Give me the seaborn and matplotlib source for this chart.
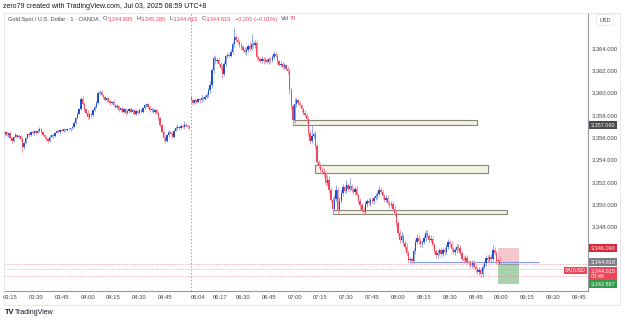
import numpy as np
import pandas as pd
import matplotlib
matplotlib.use("Agg")
import matplotlib.pyplot as plt
from matplotlib.patches import Rectangle
import seaborn as sns

# ---- 1-minute XAUUSD candles read off the snapshot ----
# first session 03:12 - 04:59, open of the very first bar, then closes
asia_open = 3356.30
asia_close = [
    3356.45, 3356.20, 3356.35, 3355.90, 3355.70, 3356.05, 3356.20, 3356.00, 3356.15, 3355.85,
    3355.10, 3355.45, 3355.90, 3356.30, 3356.20, 3356.50, 3356.35, 3356.55, 3356.40, 3356.60,
    3356.75, 3356.45, 3356.20, 3356.05, 3355.80, 3355.70, 3356.05, 3356.20, 3356.10, 3356.40,
    3356.55, 3356.45, 3356.65, 3356.60, 3356.70, 3356.65, 3356.75, 3356.70, 3356.80, 3356.95,
    3357.30, 3357.70, 3358.10, 3358.50, 3359.40, 3359.00, 3358.50, 3358.20, 3357.80, 3358.10,
    3357.95, 3358.40, 3358.70, 3359.10, 3359.95, 3360.05, 3359.80, 3359.60, 3359.35, 3359.50,
    3359.25, 3359.05, 3359.20, 3358.90, 3358.70, 3358.80, 3358.45, 3358.60, 3358.30, 3358.50,
    3358.15, 3358.35, 3358.55, 3358.25, 3358.40, 3358.10, 3358.35, 3358.20, 3358.45, 3358.30,
    3358.60, 3358.85, 3358.95, 3358.70, 3358.40, 3358.55, 3358.30, 3358.45, 3358.20, 3357.70,
    3357.10, 3356.50, 3355.90, 3355.70, 3356.20, 3356.50, 3356.30, 3356.05, 3356.60, 3356.85,
    3356.95, 3356.80, 3357.00, 3356.90, 3357.10, 3357.05, 3356.95, 3356.85]
# wick lengths beyond the body, in cents
asia_wick_up = [
    10, 15, 5, 20, 10, 10, 15, 5, 10, 5,
    20, 10, 15, 10, 20, 10, 15, 5, 10, 10,
    20, 10, 15, 5, 10, 10, 15, 5, 10, 10,
    15, 10, 5, 10, 15, 5, 10, 10, 5, 10,
    15, 10, 20, 15, 20, 30, 15, 10, 20, 10,
    15, 10, 20, 15, 10, 20, 15, 10, 20, 10,
    15, 10, 5, 20, 10, 15, 10, 5, 15, 10,
    10, 20, 5, 15, 10, 10, 20, 10, 15, 5,
    10, 15, 15, 10, 20, 5, 15, 10, 10, 15,
    10, 5, 15, 20, 10, 15, 10, 20, 10, 15,
    20, 10, 15, 10, 35, 20, 10, 15]
asia_wick_dn = [
    15, 10, 20, 10, 20, 10, 5, 15, 10, 20,
    40, 15, 10, 5, 15, 10, 5, 15, 10, 5,
    10, 15, 10, 20, 15, 20, 10, 5, 15, 10,
    5, 10, 15, 5, 10, 10, 5, 15, 10, 5,
    10, 15, 10, 5, 10, 15, 20, 10, 15, 20,
    10, 15, 5, 10, 10, 15, 10, 20, 10, 15,
    10, 20, 10, 15, 10, 5, 20, 10, 15, 10,
    20, 10, 15, 5, 20, 10, 15, 10, 5, 15,
    10, 5, 10, 20, 10, 15, 10, 20, 10, 15,
    20, 15, 20, 20, 10, 15, 10, 15, 10, 5,
    10, 15, 10, 5, 15, 10, 20, 10]

# second session 06:00 - 08:59
day_open = 3359.60
day_close = [
    3359.30, 3359.10, 3359.35, 3359.20, 3359.40, 3359.30, 3359.55, 3359.45, 3359.60, 3359.75,
    3360.20, 3360.70, 3362.00, 3363.10, 3362.85, 3362.95, 3362.60, 3362.20, 3361.65, 3362.60,
    3363.25, 3363.40, 3363.30, 3363.65, 3364.40, 3365.00, 3364.70, 3364.55, 3364.30, 3364.10,
    3363.80, 3363.60, 3363.85, 3364.20, 3363.95, 3364.40, 3364.25, 3364.45, 3363.20, 3363.00,
    3362.85, 3363.05, 3362.80, 3362.95, 3362.75, 3363.00, 3362.90, 3363.20, 3363.45, 3363.30,
    3362.80, 3362.50, 3362.60, 3362.30, 3362.45, 3362.15, 3361.90, 3360.20, 3358.80, 3357.50,
    3359.00, 3359.30, 3359.05, 3358.85, 3358.50, 3358.20, 3358.00, 3357.60, 3356.40, 3355.70,
    3356.10, 3356.30, 3355.20, 3353.80, 3353.40, 3353.10, 3352.90, 3352.70, 3351.90, 3352.20,
    3351.30, 3350.40, 3349.60, 3350.50, 3351.30, 3349.50, 3350.30, 3351.00, 3351.50, 3351.20,
    3351.70, 3351.40, 3351.60, 3351.30, 3351.10, 3351.35, 3350.80, 3350.30, 3349.90, 3349.50,
    3349.30, 3350.00, 3350.30, 3350.10, 3350.40, 3350.25, 3350.55, 3350.70, 3350.90, 3351.30,
    3351.10, 3350.70, 3350.40, 3350.55, 3350.10, 3349.90, 3350.05, 3349.60, 3349.20, 3348.30,
    3347.40, 3346.80, 3347.10, 3346.50, 3346.20, 3345.60, 3345.00, 3345.10, 3344.90, 3345.80,
    3346.60, 3347.00, 3346.70, 3346.40, 3346.60, 3346.95, 3347.40, 3347.15, 3346.80, 3346.90,
    3346.30, 3345.80, 3345.40, 3345.60, 3345.85, 3345.55, 3345.90, 3345.70, 3346.20, 3346.60,
    3346.40, 3346.00, 3345.70, 3345.85, 3346.20, 3346.05, 3345.60, 3345.10, 3344.95, 3345.20,
    3344.80, 3344.70, 3344.50, 3344.75, 3344.40, 3344.20, 3343.90, 3344.10, 3343.70, 3344.40,
    3344.70, 3345.20, 3345.00, 3345.30, 3345.10, 3345.90, 3345.60, 3344.90, 3344.895, 3344.615]
day_wick_up = [
    20, 10, 15, 10, 15, 10, 20, 10, 15, 20,
    20, 30, 25, 20, 30, 15, 20, 15, 25, 20,
    15, 20, 15, 25, 20, 90, 20, 25, 15, 20,
    15, 25, 20, 15, 30, 90, 20, 30, 25, 20,
    15, 20, 15, 20, 15, 20, 15, 20, 25, 15,
    20, 15, 20, 15, 20, 15, 20, 30, 25, 20,
    50, 20, 15, 20, 15, 20, 25, 20, 30, 25,
    100, 20, 30, 25, 20, 25, 20, 30, 25, 40,
    30, 25, 20, 30, 40, 25, 30, 25, 30, 20,
    50, 20, 70, 25, 20, 30, 25, 20, 25, 20,
    20, 25, 20, 25, 20, 25, 20, 30, 25, 30,
    20, 25, 20, 30, 25, 20, 25, 20, 30, 25,
    30, 25, 40, 20, 25, 30, 25, 20, 20, 30,
    25, 30, 20, 25, 20, 25, 30, 25, 20, 30,
    25, 20, 20, 25, 20, 25, 20, 25, 20, 25,
    20, 25, 20, 30, 25, 20, 25, 20, 25, 20,
    25, 20, 25, 20, 25, 20, 20, 25, 20, 25,
    20, 25, 20, 20, 25, 40, 25, 20, 25, 49]
day_wick_dn = [
    15, 20, 10, 15, 10, 20, 15, 10, 15, 10,
    15, 20, 25, 20, 30, 20, 25, 20, 30, 20,
    20, 15, 20, 15, 20, 30, 20, 15, 20, 25,
    20, 15, 20, 25, 20, 15, 20, 25, 30, 20,
    20, 15, 20, 15, 20, 15, 20, 15, 20, 15,
    20, 15, 20, 15, 20, 15, 25, 30, 40, 40,
    20, 25, 20, 15, 20, 25, 20, 30, 25, 30,
    25, 20, 30, 25, 20, 25, 20, 30, 25, 20,
    30, 25, 50, 20, 25, 30, 25, 20, 25, 20,
    20, 25, 20, 25, 20, 25, 20, 25, 30, 25,
    30, 20, 25, 20, 25, 20, 25, 20, 25, 20,
    20, 25, 20, 25, 20, 25, 20, 25, 30, 25,
    30, 25, 20, 25, 30, 25, 30, 25, 25, 20,
    25, 20, 25, 20, 25, 20, 25, 20, 25, 20,
    20, 25, 20, 25, 20, 25, 20, 25, 20, 25,
    20, 25, 20, 25, 20, 25, 20, 25, 20, 25,
    20, 25, 20, 25, 20, 25, 20, 25, 20, 25,
    20, 25, 20, 20, 25, 20, 20, 25, 20, 0]

time_labels = ["03:15", "03:30", "03:45", "04:00", "04:15", "04:30", "04:45",
               "06:04", "06:17", "06:30", "06:45", "07:00", "07:15", "07:30",
               "07:45", "08:00", "08:15", "08:30", "08:45", "09:00", "09:15",
               "09:30", "09:45"]
price_ticks = [3348, 3350, 3352, 3354, 3356, 3358, 3360, 3362, 3364]

# drawn supply/demand boxes
zone_start = ["06:59", "07:12", "07:22"]
zone_end = ["08:46", "08:52", "09:03"]
zone_low = [3357.09, 3352.76, 3349.08]
zone_high = [3357.55, 3353.53, 3349.47]

# short position tool and horizontal ray
pos_start, pos_end = "08:58", "09:10"
entry, stop, target = 3344.615, 3346.090, 3342.867
ray_start, ray_end, ray_price = "08:07", "09:22", 3344.818
last_price = 3344.615
dash_lines = [3344.21, 3343.58]

# header legend of the last bar
legend_ohlc = [("O", "3,344.895"), ("H", "3,345.385"), ("L", "3,344.615"), ("C", "3,344.615")]
legend_change = "\u22120.200 (\u22120.01%)"
legend_vol = "70"

assert len(asia_close) == len(asia_wick_up) == len(asia_wick_dn) == 108
assert len(day_close) == len(day_wick_up) == len(day_wick_dn) == 180


def bar_of(t):
    h, m = map(int, t.split(":"))
    mins = h * 60 + m
    if mins < 6 * 60:
        return mins - (3 * 60 + 12)
    return len(asia_close) + mins - 6 * 60


def session_frame(first_open, closes, up, dn, start):
    opens = [first_open] + closes[:-1]
    df = pd.DataFrame({"open": opens, "close": closes})
    top = df[["open", "close"]].max(axis=1)
    bot = df[["open", "close"]].min(axis=1)
    df["high"] = top + np.array(up) / 100.0
    df["low"] = bot - np.array(dn) / 100.0
    df["bar"] = np.arange(start, start + len(df))
    return df


df = pd.concat([session_frame(asia_open, asia_close, asia_wick_up, asia_wick_dn, 0),
                session_frame(day_open, day_close, day_wick_up, day_wick_dn, len(asia_close))],
               ignore_index=True)
df["up"] = df["close"] >= df["open"]

UP, DN = "#1f4fd6", "#f0465f"
UP_W, DN_W = "#7f9ae8", "#f48a9c"
TXT = "#434651"

sns.set_theme(style="white")
plt.rcParams["font.family"] = ["Liberation Sans", "DejaVu Sans"]

W, H = 625, 322
fig = plt.figure(figsize=(W / 100, H / 100), dpi=100)
L, R, T, B = 4, 588, 13, 291
ax = fig.add_axes([L / W, 1 - B / H, (R - L) / W, (B - T) / H])

# x mapping: 1 bar = 1.724 px, first bar at px 5
ppb = 1.724
ax.set_xlim((L - 5) / ppb, (R - 5) / ppb)
ax.set_ylim(3342.21, 3367.14)

# zones
for s, e, lo, hi in zip(zone_start, zone_end, zone_low, zone_high):
    ax.add_patch(Rectangle((bar_of(s), lo), bar_of(e) - bar_of(s), hi - lo,
                           facecolor="#f4f2e3", edgecolor="#85857a", lw=0.8, zorder=1))

# position tool
x0, x1 = bar_of(pos_start), bar_of(pos_end)
ax.add_patch(Rectangle((x0, entry), x1 - x0, stop - entry, facecolor="#f6c6cc", edgecolor="none", zorder=1))
ax.add_patch(Rectangle((x0, target), x1 - x0, entry - target, facecolor="#a9d3ad", edgecolor="none", zorder=1))
ax.hlines(entry, x0, x1, color="#9a9a9a", lw=0.8, zorder=2)

# horizontal lines
ax.axhline(last_price, color="#f28b9a", ls=(0, (2, 2)), lw=0.5, zorder=1)
ax.axhline(dash_lines[0], color="#8fa8f0", ls=(0, (1, 1.5)), lw=0.5, zorder=1)
ax.axhline(dash_lines[1], color="#f28b9a", ls=(0, (2, 2)), lw=0.5, zorder=1)
ax.hlines(ray_price, bar_of(ray_start), bar_of(ray_end), color="#7a9cf0", lw=0.8, zorder=2)

# session break
ax.axvline(len(asia_close) - 0.4, color="#8aa4e8", ls=(0, (1.5, 2)), lw=0.7, zorder=1)

# candles
wick_cols = np.where(df["up"], UP_W, DN_W)
body_cols = np.where(df["up"], UP, DN)
ax.vlines(df["bar"], df["low"], df["high"], colors=wick_cols, lw=0.6, zorder=3)
ax.bar(df["bar"], (df["close"] - df["open"]).abs().clip(lower=0.07),
       bottom=df[["open", "close"]].min(axis=1), width=0.78, color=body_cols, lw=0, zorder=4)

# axes styling
for sp in ["top", "left"]:
    ax.spines[sp].set_visible(False)
for sp in ["right", "bottom"]:
    ax.spines[sp].set_color("#9598a1")
    ax.spines[sp].set_linewidth(0.8)
ax.yaxis.tick_right()
ax.set_yticks(price_ticks)
ax.set_yticklabels([f"{v:,.3f}" for v in price_ticks])
ax.set_xticks([bar_of(t) for t in time_labels])
ax.set_xticklabels(time_labels)
ax.tick_params(axis="both", length=0, labelsize=4.2, labelcolor=TXT)
ax.tick_params(axis="y", pad=3)
ax.tick_params(axis="x", pad=3)
ax.grid(False)

# price-axis labels
ytr = ax.get_yaxis_transform()
def axis_label(price, text, color, dy=0, va="center"):
    ax.annotate(text, xy=(1, price), xycoords=ytr, xytext=(2.5, dy), textcoords="offset pixels",
                ha="left", va=va, fontsize=4.0, color="white", annotation_clip=False,
                bbox=dict(boxstyle="square,pad=0.3", fc=color, ec="none"))

axis_label(zone_low[0], f"{zone_low[0]:,.3f}", "#4a4a4a")
axis_label(stop, f"{stop:,.3f}", "#d9283a")
axis_label(ray_price, f"{ray_price:,.3f}", "#7b7e87")
axis_label(last_price, f"{last_price:,.3f}\n00:46", "#f0455a", dy=-4, va="top")
axis_label(target, f"{target:,.3f}", "#2f9a4a")
ax.annotate("XAUUSD", xy=(1, last_price), xycoords=ytr, xytext=(-2, -4), textcoords="offset pixels",
            ha="right", va="top", fontsize=3.6, color="white", annotation_clip=False,
            bbox=dict(boxstyle="square,pad=0.25", fc="#f0455a", ec="none"))

# header / footer text
fig.text(3 / W, 1 - 6 / H, "zero79 created with TradingView.com, Jul 03, 2025 08:59 UTC+8",
         fontsize=5.0, color="#131722", va="center")

renderer = fig.canvas.get_renderer()
def put(xp, s, c, gap):
    t = fig.text(xp / W, 1 - 19 / H, s, fontsize=4.1, color=c, va="center")
    return t.get_window_extent(renderer).x1 + gap

xp = put(8, "Gold Spot / U.S. Dollar · 1 · OANDA", TXT, 4)
for k, v in legend_ohlc:
    xp = put(xp, k, TXT, 0.3)
    xp = put(xp, v, DN, 3.5)
xp = put(xp, legend_change, DN, 4)
xp = put(xp, "Vol", TXT, 0.3)
put(xp, legend_vol, DN, 0)

fig.text(605 / W, 1 - 20 / H, "USD", fontsize=4.0, color=TXT, ha="center", va="center",
         bbox=dict(boxstyle="round,pad=0.5,rounding_size=0.3", fc="white", ec="#e0e3eb", lw=0.5))
fig.text(5 / W, 1 - 313 / H, "TV", fontsize=5.2, weight="bold", color="#131722", va="center")
fig.text(15 / W, 1 - 313 / H, "TradingView", fontsize=5.0, color="#131722", va="center")

# widget frame
fig.add_artist(Rectangle((L / W, 1 - 305 / H), (620 - L) / W, (305 - T) / H, transform=fig.transFigure,
                         fill=False, edgecolor="#e0e3eb", lw=0.6))

fig.savefig("out.png", dpi=100)
